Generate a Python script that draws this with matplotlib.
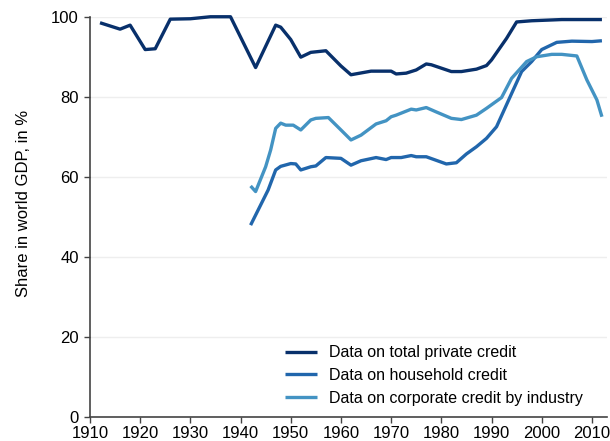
import matplotlib
matplotlib.use("Agg")
import matplotlib.pyplot as plt

plt.rcParams['font.family'] = ['Liberation Sans', 'DejaVu Sans']

# Datos
total_years = [1912, 1916, 1918, 1921, 1923, 1926, 1930, 1934, 1938, 1943, 1947, 1948,
               1950, 1952, 1954, 1957, 1960, 1962, 1966, 1970, 1971, 1973, 1975, 1977,
               1978, 1982, 1984, 1987, 1989, 1990, 1993, 1995, 1998, 2004, 2012]
total_vals = [98.5, 96.9, 97.9, 91.8, 92.0, 99.4, 99.5, 100, 100, 87.3, 97.9, 97.4,
              94.3, 89.9, 91.1, 91.5, 87.7, 85.5, 86.4, 86.4, 85.7, 85.9, 86.7, 88.2,
              88.0, 86.3, 86.3, 86.9, 87.8, 89.2, 94.6, 98.7, 99.0, 99.3, 99.3]

house_years = [1942, 1945.5, 1947, 1948, 1950, 1951, 1952, 1954, 1955, 1957, 1960, 1962,
               1964, 1967, 1969, 1970, 1972, 1974, 1975, 1977, 1981, 1983, 1985, 1987,
               1989, 1991, 1994, 1996, 1998, 2000, 2003, 2006, 2010, 2012]
house_vals = [47.9, 56.7, 61.7, 62.6, 63.3, 63.2, 61.7, 62.5, 62.7, 64.8, 64.6, 62.9,
              64.0, 64.8, 64.3, 64.8, 64.8, 65.3, 65.0, 65.0, 63.2, 63.5, 65.7, 67.5,
              69.6, 72.5, 80.8, 86.3, 88.8, 91.8, 93.6, 93.9, 93.8, 94.0]

corp_years = [1942, 1943, 1945, 1946, 1947, 1948, 1949, 1950.5, 1952, 1954, 1955, 1957.5,
              1960, 1962, 1964, 1967, 1969, 1970, 1971, 1974, 1975, 1977, 1979, 1982,
              1984, 1987, 1989, 1992, 1994, 1997, 1999, 2002, 2004, 2007, 2009, 2011, 2012]
corp_vals = [57.7, 56.3, 62.5, 66.7, 72.1, 73.4, 72.9, 72.9, 71.7, 74.2, 74.6, 74.8,
             71.7, 69.2, 70.4, 73.2, 74.0, 75.0, 75.4, 76.9, 76.7, 77.3, 76.2, 74.6,
             74.3, 75.4, 77.1, 79.8, 84.6, 88.8, 90.0, 90.6, 90.6, 90.2, 84.2, 79.2, 75.0]

labels = ['Data on total private credit', 'Data on household credit',
          'Data on corporate credit by industry']
colors = ['#08306b', '#2166ac', '#4393c3']

fig = plt.figure(figsize=(6.1, 4.41), dpi=100)
ax = fig.add_axes([0.1475, 0.055, 0.8475, 0.907])

series = [(total_years, total_vals), (house_years, house_vals), (corp_years, corp_vals)]
for (xs, ys), lab, col in zip(series, labels, colors):
    ax.plot(xs, ys, color=col, lw=2.4, label=lab, clip_on=False,
            solid_joinstyle='round', solid_capstyle='butt', zorder=3)

ax.set_xlim(1910, 2013)
ax.set_ylim(0, 100)
ax.set_xticks(range(1910, 2011, 10))
ax.set_yticks(range(0, 101, 20))
ax.tick_params(labelsize=12, length=4, width=1, color='#444444')
ax.tick_params(axis='y', pad=4)
ax.tick_params(axis='x', pad=3)
ax.set_ylabel('Share in world GDP, in %', fontsize=12)
ax.yaxis.set_label_coords(-0.114, 0.534)

ax.grid(axis='y', color='#eeeeee', lw=1)
ax.set_axisbelow(True)
for s in ['top', 'right']:
    ax.spines[s].set_visible(False)
for s in ['left', 'bottom']:
    ax.spines[s].set_color('#444444')
    ax.spines[s].set_linewidth(1.2)

ax.legend(loc='lower left', bbox_to_anchor=(0.35, -0.008), frameon=False, fontsize=11.5,
          handlelength=2.0, handletextpad=0.75, labelspacing=0.48)

fig.savefig('out.png', dpi=100)
